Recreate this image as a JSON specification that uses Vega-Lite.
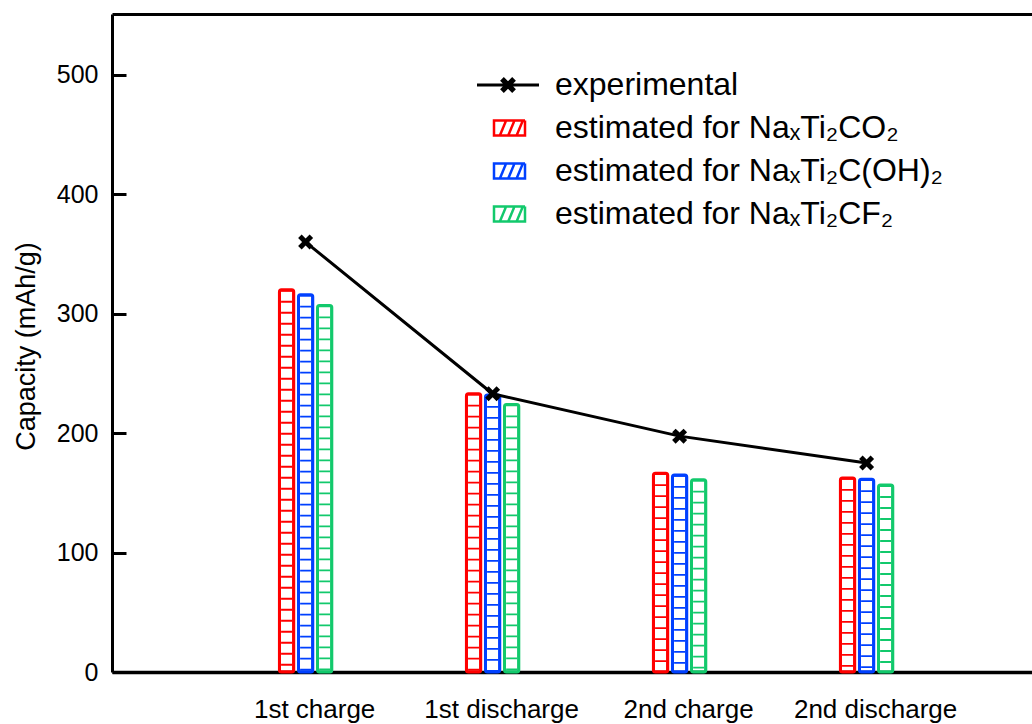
{
  "$schema": "https://vega.github.io/schema/vega-lite/v6.json",
  "width": 920,
  "height": 658,
  "autosize": {"type": "none"},
  "padding": {"left": 112, "top": 14, "right": 0, "bottom": 52},
  "background": "white",
  "config": {
    "view": {"stroke": null},
    "font": "Liberation Sans",
    "axis": {"titleFontSize": 27, "titleFontWeight": "normal", "titleColor": "black", "titleFont": "Liberation Sans"},
    "axisX": {"grid": false},
    "axisY": {"grid": true, "gridColor": "black", "gridWidth": 3, "gridDash": [14, 3000], "gridOpacity": 1}
  },
  "resolve": {"axis": {"y": "independent"}},
  "datasets": {
    "bars": [
      {"stage": "1st charge", "series": "estimated for NaₓTi₂CO₂", "capacity": 320},
      {"stage": "1st charge", "series": "estimated for NaₓTi₂C(OH)₂", "capacity": 316},
      {"stage": "1st charge", "series": "estimated for NaₓTi₂CF₂", "capacity": 307},
      {"stage": "1st discharge", "series": "estimated for NaₓTi₂CO₂", "capacity": 233},
      {"stage": "1st discharge", "series": "estimated for NaₓTi₂C(OH)₂", "capacity": 232},
      {"stage": "1st discharge", "series": "estimated for NaₓTi₂CF₂", "capacity": 224},
      {"stage": "2nd charge", "series": "estimated for NaₓTi₂CO₂", "capacity": 166.5},
      {"stage": "2nd charge", "series": "estimated for NaₓTi₂C(OH)₂", "capacity": 165},
      {"stage": "2nd charge", "series": "estimated for NaₓTi₂CF₂", "capacity": 161},
      {"stage": "2nd discharge", "series": "estimated for NaₓTi₂CO₂", "capacity": 162.5},
      {"stage": "2nd discharge", "series": "estimated for NaₓTi₂C(OH)₂", "capacity": 161.5},
      {"stage": "2nd discharge", "series": "estimated for NaₓTi₂CF₂", "capacity": 156.5}
    ],
    "exp": [
      {"stage": "1st charge", "capacity": 360},
      {"stage": "1st discharge", "capacity": 233},
      {"stage": "2nd charge", "capacity": 197.5},
      {"stage": "2nd discharge", "capacity": 175}
    ]
  },
  "layer": [
    {
      "data": {"name": "bars"},
      "mark": {"type": "rule", "strokeWidth": 11, "strokeDash": [1.8, 9.2], "strokeCap": "butt"},
      "encoding": {
        "x": {
          "field": "stage", "type": "nominal",
          "scale": {"type": "band", "domain": ["1st charge", "1st discharge", "2nd charge", "2nd discharge"], "paddingInner": 0.72, "paddingOuter": 0.82, "align": 0.546},
          "axis": {"orient": "bottom", "title": null, "ticks": false, "grid": false, "domainColor": "black", "domainWidth": 3.5, "labelFontSize": 26, "labelColor": "black", "labelPadding": 24, "labelOffset": 9, "labelAngle": 0, "labelFont": "Liberation Sans"}
        },
        "xOffset": {
          "field": "series", "type": "nominal",
          "scale": {"domain": ["estimated for NaₓTi₂CO₂", "estimated for NaₓTi₂C(OH)₂", "estimated for NaₓTi₂CF₂"], "paddingInner": 0.25, "paddingOuter": 0}
        },
        "y": {
          "field": "capacity", "type": "quantitative",
          "scale": {"domain": [0, 551], "nice": false},
          "axis": {"orient": "left", "values": [0, 100, 200, 300, 400, 500], "ticks": false, "grid": true, "gridColor": "black", "gridWidth": 3, "gridDash": [14, 3000], "gridOpacity": 1, "domainColor": "black", "domainWidth": 3, "labelFontSize": 25, "labelColor": "black", "labelPadding": 14, "labelFont": "Liberation Sans", "title": "Capacity (mAh/g)", "titleFont": "Liberation Sans", "titleFontSize": 27, "titleFontWeight": "normal", "titleColor": "black", "titleX": -86, "titleY": 332, "titleAngle": 270, "titleBaseline": "middle", "titleAlign": "center"}
        },
        "y2": {"datum": 0},
        "stroke": {
          "field": "series", "type": "nominal",
          "scale": {"domain": ["estimated for NaₓTi₂CO₂", "estimated for NaₓTi₂C(OH)₂", "estimated for NaₓTi₂CF₂"], "range": ["#ff0000", "#0040ff", "#12c96c"]},
          "legend": {
            "title": null, "orient": "none", "legendX": 380.5, "legendY": 97, "padding": 0,
            "symbolType": "M-1,-0.48H1V0.48H-1Z M-0.62,0.48L-0.22,-0.48 M-0.08,0.48L0.32,-0.48 M0.46,0.48L0.86,-0.48",
            "symbolSize": 961, "symbolStrokeWidth": 2.5, "symbolFillColor": "white", "symbolDash": [1, 0], "symbolOpacity": 1,
            "labelFontSize": 32, "labelFont": "Liberation Sans", "labelColor": "black", "labelOffset": 28.5, "labelLimit": 800, "rowPadding": 10
          }
        }
      }
    },
    {
      "data": {"name": "bars"},
      "mark": {"type": "bar", "filled": false, "strokeWidth": 3, "cornerRadius": 2},
      "encoding": {
        "x": {"field": "stage", "type": "nominal", "axis": null},
        "xOffset": {"field": "series", "type": "nominal"},
        "y": {"field": "capacity", "type": "quantitative", "axis": null},
        "stroke": {
          "field": "series", "type": "nominal",
          "legend": {
            "title": null, "orient": "none", "legendX": 380.5, "legendY": 97, "padding": 0,
            "symbolType": "M-1,-0.48H1V0.48H-1Z M-0.62,0.48L-0.22,-0.48 M-0.08,0.48L0.32,-0.48 M0.46,0.48L0.86,-0.48",
            "symbolSize": 961, "symbolStrokeWidth": 2.5, "symbolFillColor": "white", "symbolDash": [1, 0], "symbolOpacity": 1,
            "labelFontSize": 32, "labelFont": "Liberation Sans", "labelColor": "black", "labelOffset": 28.5, "labelLimit": 800, "rowPadding": 10
          }
        }
      }
    },
    {
      "data": {"name": "exp"},
      "mark": {"type": "line", "color": "black", "strokeWidth": 3},
      "encoding": {
        "x": {"field": "stage", "type": "nominal", "axis": {"orient": "top", "labels": false, "ticks": false, "grid": false, "title": null, "domainColor": "black", "domainWidth": 3}},
        "y": {"field": "capacity", "type": "quantitative", "axis": null}
      }
    },
    {
      "data": {"name": "exp"},
      "mark": {"type": "point", "filled": true, "color": "black", "opacity": 1, "size": 225, "shape": "M-0.53,-1L-1,-0.53L-0.47,0L-1,0.53L-0.53,1L0,0.47L0.53,1L1,0.53L0.47,0L1,-0.53L0.53,-1L0,-0.47Z"},
      "encoding": {
        "x": {"field": "stage", "type": "nominal", "axis": null},
        "y": {"field": "capacity", "type": "quantitative", "axis": null}
      }
    },
    {
      "data": {"name": "exp"},
      "mark": {"type": "point", "filled": true, "color": "black", "opacity": 0, "strokeWidth": 0, "size": 3844, "shape": "M-1,-0.05L-1,0.05L1,0.05L1,-0.05Z M-0.135,-0.255L-0.255,-0.135L-0.12,0L-0.255,0.135L-0.135,0.255L0,0.12L0.135,0.255L0.255,0.135L0.12,0L0.255,-0.135L0.135,-0.255L0,-0.12Z"},
      "encoding": {
        "x": {"field": "stage", "type": "nominal", "axis": null},
        "y": {"field": "capacity", "type": "quantitative", "axis": null},
        "strokeDash": {
          "datum": "experimental", "type": "nominal",
          "scale": {"range": [[1, 0]]},
          "legend": {
            "title": null, "orient": "none", "legendX": 365, "legendY": 40, "padding": 0,
            "symbolType": "M-1,-0.05L-1,0.05L1,0.05L1,-0.05Z M-0.135,-0.255L-0.255,-0.135L-0.12,0L-0.255,0.135L-0.135,0.255L0,0.12L0.135,0.255L0.255,0.135L0.12,0L0.255,-0.135L0.135,-0.255L0,-0.12Z",
            "symbolSize": 3844, "symbolOpacity": 1, "symbolFillColor": "black", "symbolStrokeWidth": 0,
            "labelFontSize": 32, "labelFont": "Liberation Sans", "labelColor": "black", "labelOffset": 16, "labelLimit": 800
          }
        }
      }
    }
  ]
}
